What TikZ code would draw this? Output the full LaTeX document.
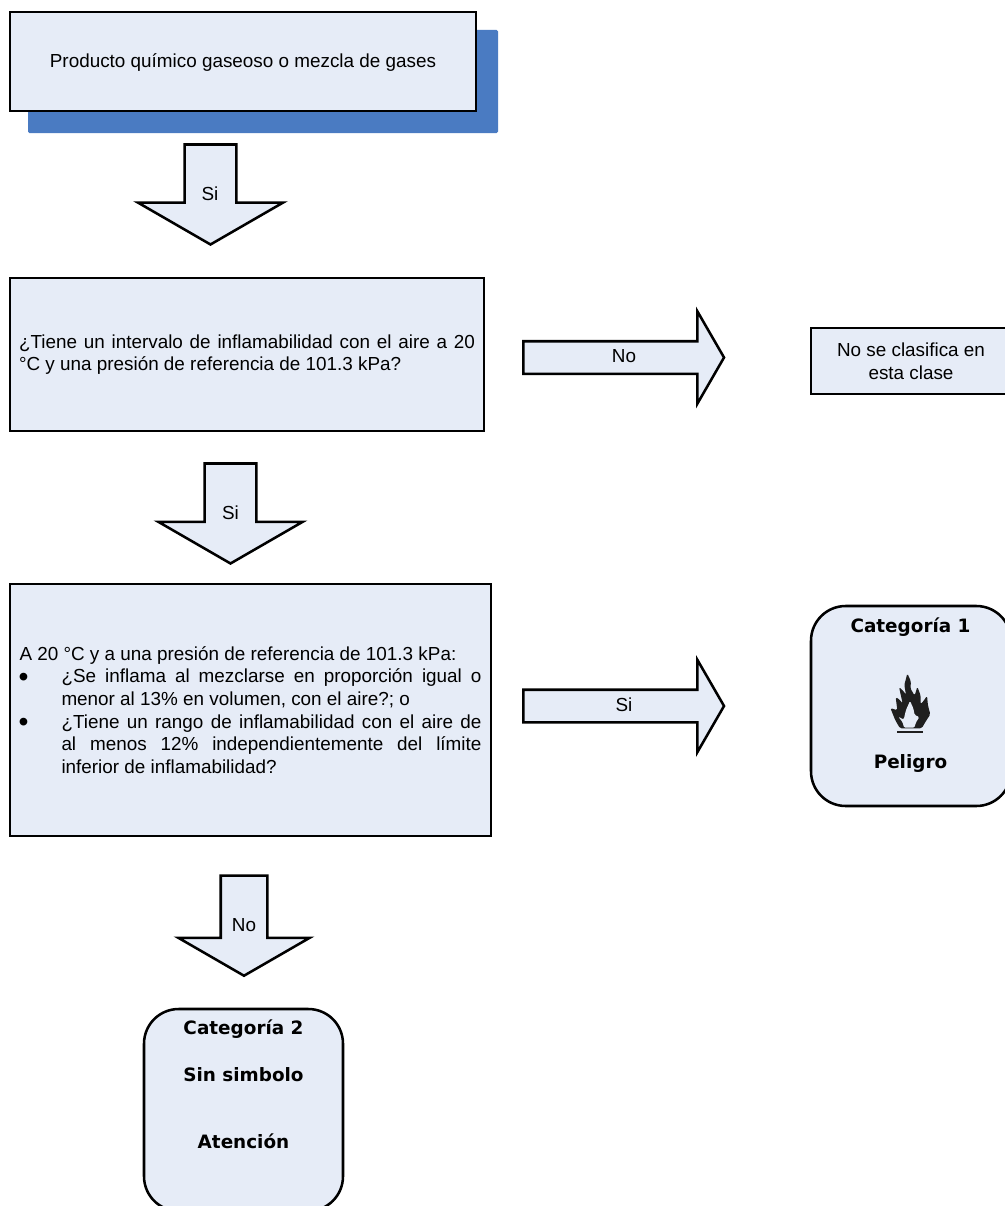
\documentclass[tikz,border=0pt]{standalone}
\usepackage{fontspec}
\setmainfont{Liberation Sans}
\newfontfamily\heavyfont[Scale=1]{DejaVu Sans Bold}
\usetikzlibrary{shapes.arrows}

\definecolor{boxfill}{HTML}{E6ECF7}
\definecolor{shadowblue}{HTML}{4A7BC2}

\newcommand{\bulletmark}{\makebox[31.5pt][l]{\hspace{-.6pt}\raisebox{-2.4pt}{\scalebox{1.5}{\textbullet}}}}

\tikzset{
	plainbox/.style={draw, line width=1.9pt, fill=boxfill, inner sep=0pt, outer sep=0pt, align=center},
	roundbox/.style={plainbox, rounded corners=26pt},
	boldlabel/.style={font=\heavyfont\fontsize{13.8pt}{16pt}\selectfont, inner sep=0pt, anchor=base},
	arrowlabel/.style={inner sep=0pt, anchor=base},
	blockarrow/.style={draw, line width=1.9pt, fill=boxfill, single arrow, inner sep=0pt, outer sep=0pt,
		single arrow tip angle=120, single arrow head indent=0pt},
	downarrow/.style={blockarrow, shape border rotate=270, minimum height=75pt},
	rightarrow/.style={blockarrow, minimum height=150.5pt, text width=20pt, text height=11.25pt, text depth=11.25pt,
		minimum width=67.5pt, single arrow head extend=22.5pt}
}

\begin{document}
\begin{tikzpicture}[x=.75pt, y=-.75pt, font=\fontsize{14.16pt}{17pt}\selectfont]
	\useasboundingbox (0,0) rectangle (1005,1206);
	
	% top box with its shadow
	\node [fill=shadowblue, rounded corners=1pt, minimum width=352.5pt, minimum height=77.25pt, inner sep=0pt] (shadow) at (263,81.5) {};
	\node [plainbox, minimum width=349.5pt, minimum height=74.25pt, text height=12pt, text depth=2.7pt] (producto) at (243,61.5) {Producto químico gaseoso o mezcla de gases};
	
	% left column
	\node [plainbox, text width=342pt, inner xsep=6.75pt, minimum height=114.75pt, align=justify] (intervalo) at (247,354.5)
		{¿Tiene un intervalo de inflamabilidad con el aire a 20 °C y una presión de referencia de 101.3 kPa?};
	
	\node [plainbox, text width=346.5pt, inner xsep=7.125pt, minimum height=189pt, align=justify] (presion) at (250.5,710) {%
		A 20 °C y a una presión de referencia de 101.3 kPa:\par
		\hangindent=31.5pt\hangafter=1\noindent\bulletmark ¿Se inflama al mezclarse en proporción igual o menor al 13\% en volumen, con el aire?; o\par
		\hangindent=31.5pt\hangafter=1\noindent\bulletmark ¿Tiene un rango de inflamabilidad con el aire de\linebreak al menos 12\% independientemente del límite\linebreak inferior de inflamabilidad?\par};
	
	\node [roundbox, minimum width=149.25pt, minimum height=151.5pt] (cat2) at (243.5,1110) {};
	\node [boldlabel] (cat2title) at (243.5,1034) {Categoría 2};
	\node [boldlabel] (cat2symbol) at (243.5,1081) {Sin simbolo};
	\node [boldlabel] (cat2word) at (243.5,1148) {Atención};
	
	% right column
	\node [plainbox, minimum width=150pt, minimum height=49.5pt] (noclase) at (911,361) {No se clasifica en\\esta clase};
	
	\node [roundbox, minimum width=150pt, minimum height=150pt] (cat1) at (911,706) {};
	\node [boldlabel] (cat1title) at (910.5,632) {Categoría 1};
	\node [boldlabel] (cat1word) at (910.5,768) {Peligro};
	
	% block arrows
	\node [downarrow, text width=37pt, minimum width=107pt, single arrow head extend=35pt] (si1) at (210.5,187) {};
	\node [downarrow, text width=37pt, minimum width=106.25pt, single arrow head extend=34.6pt] (si2) at (230.5,506) {};
	\node [downarrow, text width=33pt, minimum width=96.5pt, single arrow head extend=31.75pt] (no2) at (244,919) {};
	\node [rightarrow] (no1) at (619,357.5) {};
	\node [rightarrow] (si3) at (619,706) {};
	
	\node [arrowlabel] (si1label) at (210,200) {Si};
	\node [arrowlabel] (si2label) at (230.5,519) {Si};
	\node [arrowlabel] (no2label) at (244,931) {No};
	\node [arrowlabel] (no1label) at (624,362) {No};
	\node [arrowlabel] (si3label) at (624,711) {Si};
	
	% flame
	\begin{scope}[shift={(880,665)}, x=.25pt, y=-.25pt]
		\fill [black!88, rounded corners=1.2pt] (82,25) -- (93,50) -- (91,70) -- (104,92) -- (112,65) -- (122,92) -- (122,118)
			-- (132,106) -- (141,92) -- (144,122) -- (151,148) -- (138,168) -- (125,190) -- (60,190) -- (46,166) -- (31,129)
			-- (52,136) -- (47,96) -- (60,105) -- (68,116) -- (57,66) -- (72,80) -- (78,90) -- (73,60) -- cycle;
		\fill [boxfill, rounded corners=1pt] (90,108) -- (100,130) -- (104,150) -- (118,156) -- (108,172) -- (103,188)
			-- (72,188) -- (68,172) -- (55,155) -- (71,164) -- (78,135) -- cycle;
		\fill [black!88] (52,197) rectangle (128,203);
	\end{scope}
\end{tikzpicture}
\end{document}
